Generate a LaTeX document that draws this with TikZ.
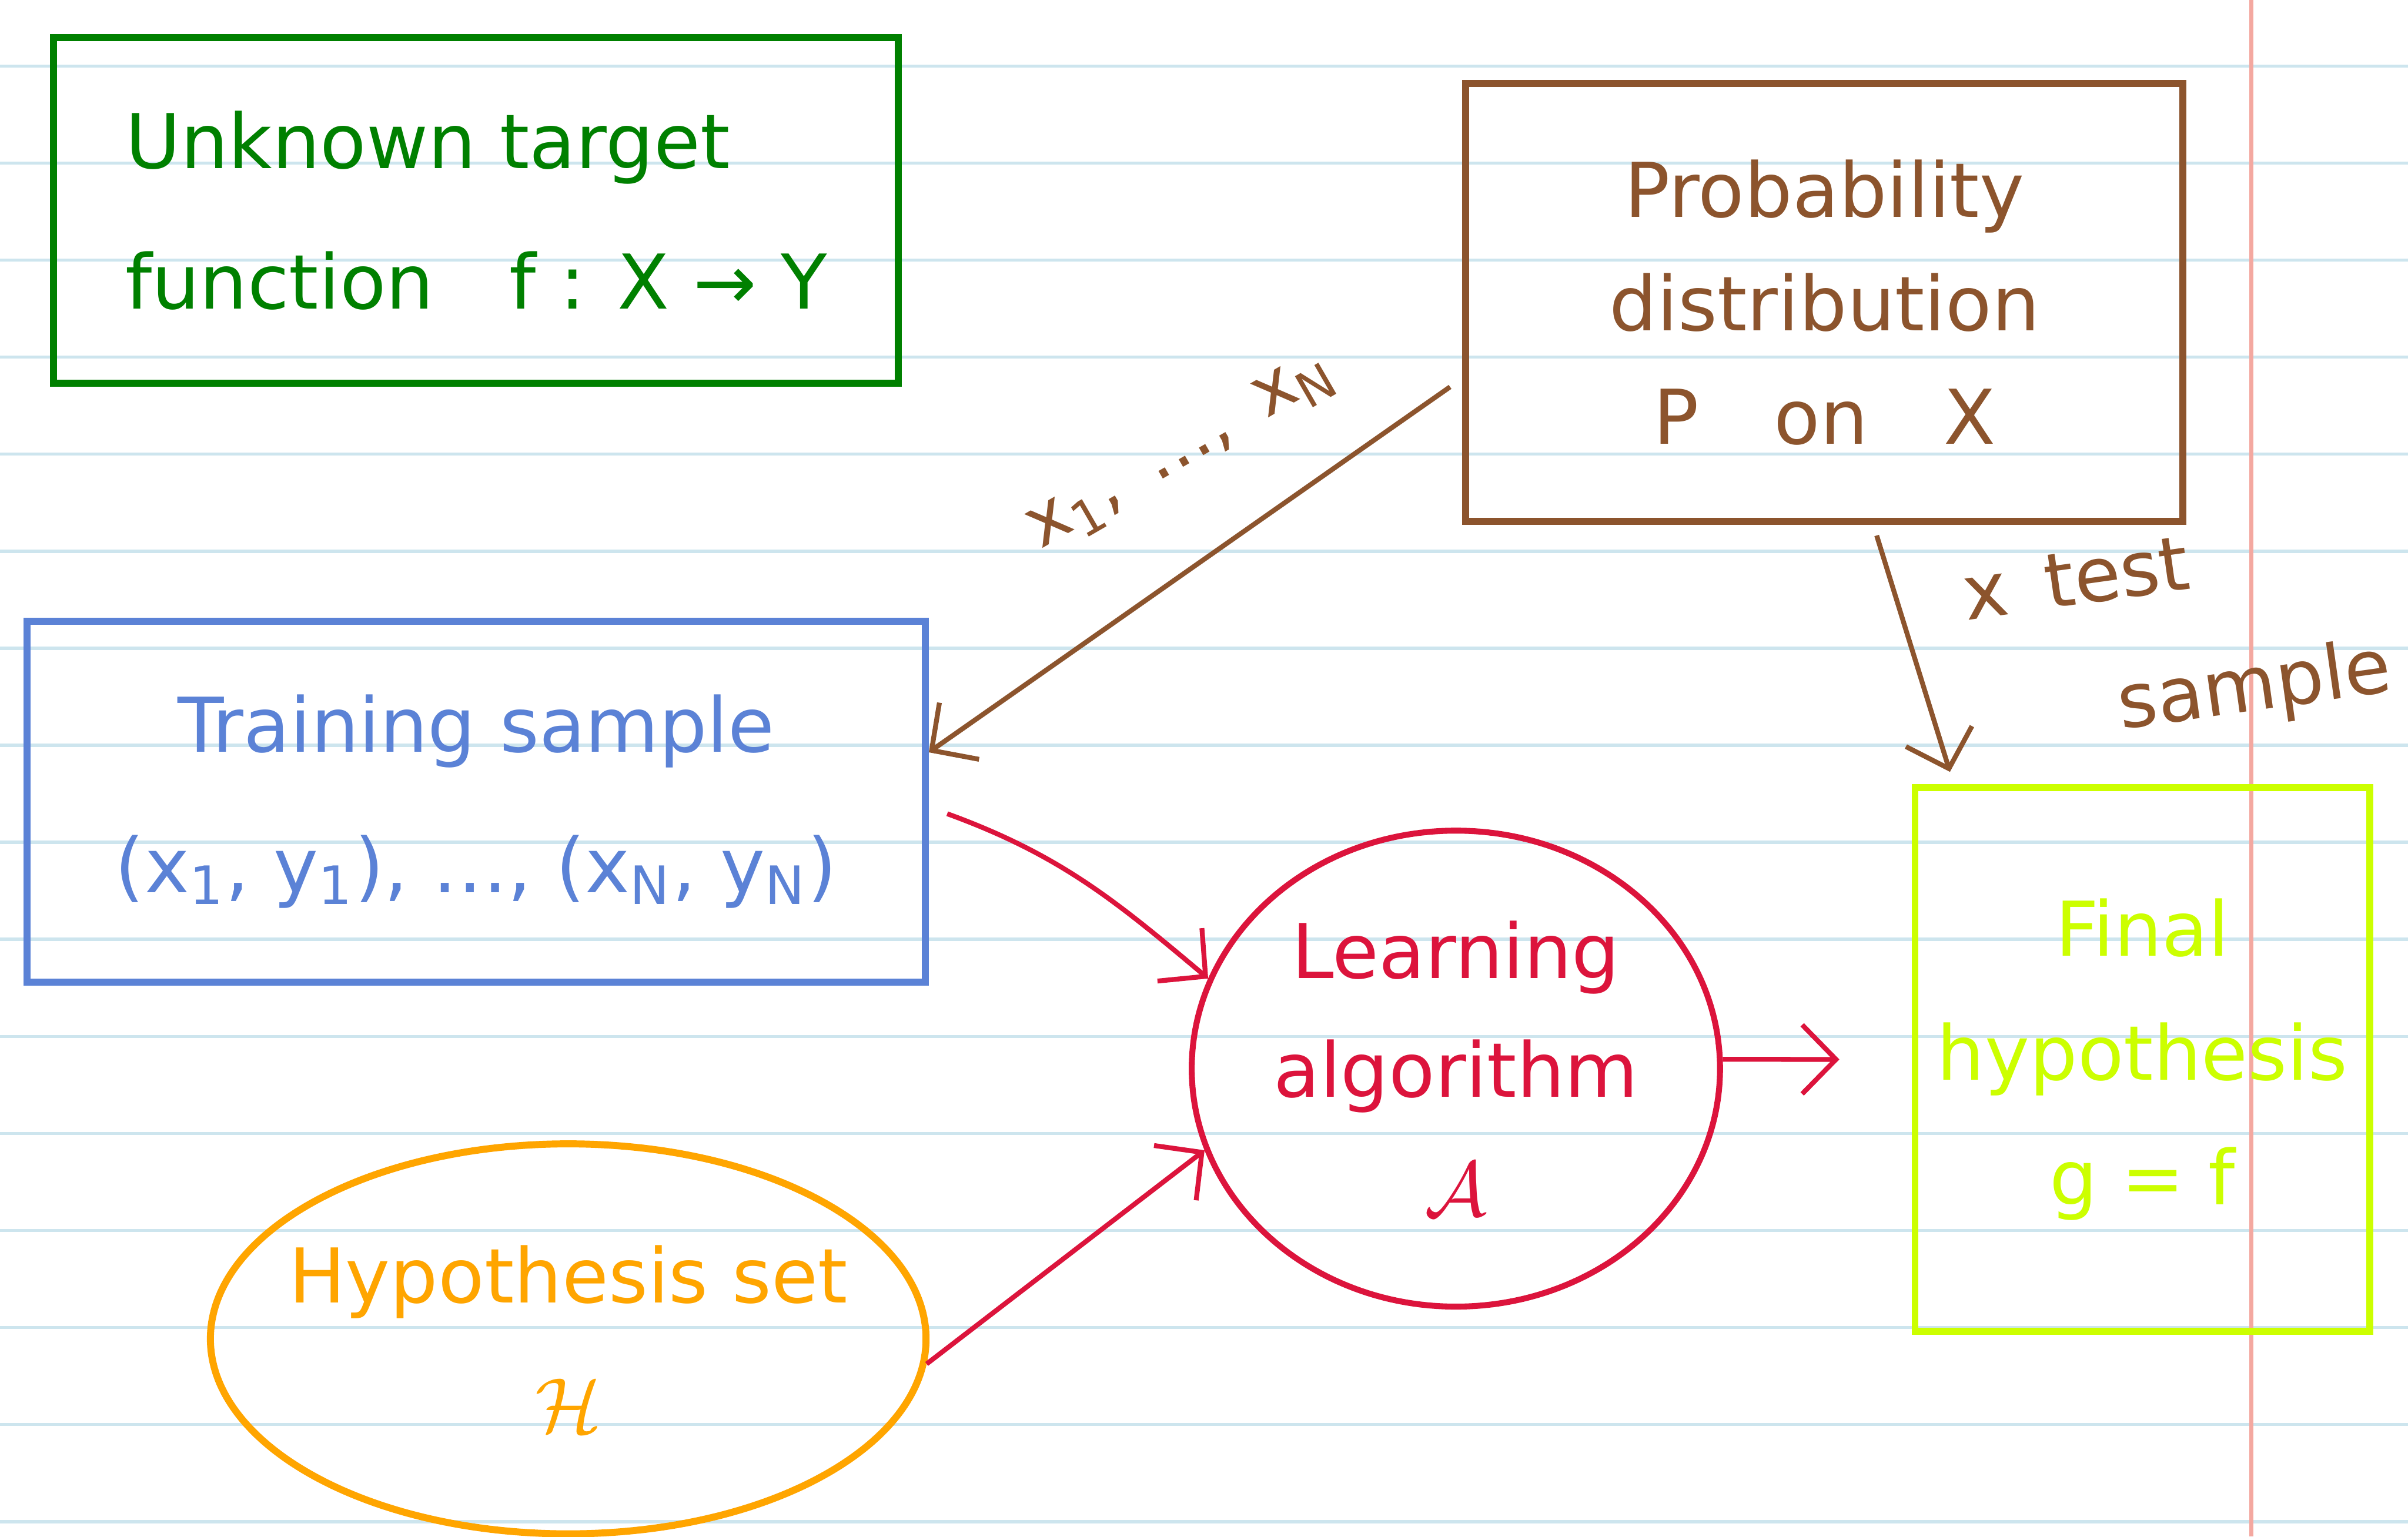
\documentclass[tikz,border=0pt]{standalone}
\usepackage{fontspec}
\setmainfont{DejaVu Sans}
\usetikzlibrary{arrows.meta,shapes.geometric}
\definecolor{penGreen}{RGB}{0,128,0}
\definecolor{penBrown}{RGB}{140,84,45}
\definecolor{penBlue}{RGB}{91,130,214}
\definecolor{penRed}{RGB}{220,20,60}
\definecolor{penOrange}{RGB}{255,165,0}
\definecolor{penLime}{RGB}{204,255,0}
\definecolor{ruleBlue}{RGB}{205,229,238}
\definecolor{marginRed}{RGB}{244,168,160}
\begin{document}
\begin{tikzpicture}[
    hand/.style={font=\fontsize{14}{#1}\selectfont, align=center},
    hand/.default=24pt,
    pen/.style={draw=#1, text=#1, line width=1.3pt},
    barb/.style={draw=#1, line width=0.9pt, -{Straight Barb[length=0.22cm,width=0.45cm]}}
  ]
  \tikzstyle{every node}+=[inner sep=0pt]
  \useasboundingbox (0,0) rectangle (15.68,-10.007);
  \fill[white] (0,0) rectangle (15.68,-10.007);
  \foreach \k in {0,...,15}
    \draw[ruleBlue, line width=0.6pt] (0,{-0.43-0.632*\k}) -- (15.68,{-0.43-0.632*\k});
  \draw[marginRed, line width=0.8pt] (14.66,0) -- (14.66,-10.007);

  \node[hand=26pt, pen=penGreen, align=left, minimum width=5.5cm, minimum height=2.25cm] (target) at (3.10,-1.37)
    {Unknown target\\function\quad f : X → Y};
  \node[hand=21pt, pen=penBrown, minimum width=4.67cm, minimum height=2.85cm] (prob) at (11.88,-1.97)
    {Probability\\distribution\\P\quad on\quad X};
  \node[hand=26pt, pen=penBlue, minimum width=5.85cm, minimum height=2.35cm] (train) at (3.10,-5.22)
    {Training sample\\(x\textsubscript{1}, y\textsubscript{1}),\ \dots,\ (x\textsubscript{N}, y\textsubscript{N})};
  \node[hand=22pt, pen=penRed, ellipse, line width=1.1pt, minimum width=3.44cm, minimum height=3.10cm] (learn) at (9.48,-6.96)
    {Learning\\algorithm\\$\mathcal{A}$};
  \node[hand=24pt, pen=penOrange, ellipse, inner xsep=-0.3cm, minimum width=4.66cm, minimum height=2.54cm] (hypo) at (3.70,-8.72)
    {Hypothesis set\\$\mathcal{H}$};
  \node[hand=23pt, pen=penLime, minimum width=2.96cm, minimum height=3.54cm] (final) at (13.95,-6.90)
    {Final\\hypothesis\\g = f};

  \node[font=\fontsize{13}{20}\selectfont, text=penBrown, rotate=30] (xs) at (7.70,-2.95) {x\textsubscript{1},\enspace\dots,\enspace x\textsubscript{N}};
  \node[hand, text=penBrown, rotate=8, align=left] (xtest) at (14.18,-4.15) {x\enspace test\\\hspace*{0.9cm}sample};

  \draw[barb=penBrown] ([xshift=-0.08cm,yshift=-0.55cm]prob.west) to[out=215,in=35] ([yshift=0.32cm]train.east);
  \draw[barb=penBrown] ([xshift=0.34cm,yshift=-0.07cm]prob.south) -- ([xshift=0.25cm,yshift=0.08cm]final.north west);
  \draw[barb=penRed] ([xshift=0.12cm,yshift=-0.08cm]train.east) to[out=-20,in=140] (learn.160);
  \draw[barb=penRed] (hypo.-4) -- (learn.198);
  \draw[barb=penRed] (learn.2) -- ([xshift=-0.47cm]final.west);
\end{tikzpicture}
\end{document}
